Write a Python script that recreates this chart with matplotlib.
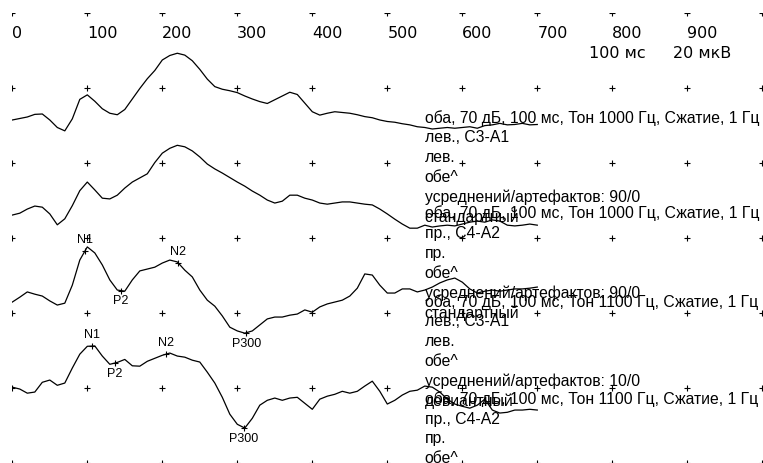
import numpy as np
import matplotlib.pyplot as plt

# Время, мс (шаг 10 мс)
t_ms = np.arange(0, 701, 10)

# Усреднённые ответы, мкВ (отрицательные значения вверх)
c3_std = [0.0, -0.4, -0.8, -1.5, -1.6, 0.0, 2.0, 2.9, -0.3, -5.5,
          -6.7, -5.0, -3.0, -1.8, -1.4, -2.8, -5.6, -8.4, -11.0, -13.2,
          -16.0, -17.2, -17.8, -17.3, -15.8, -13.5, -10.9, -8.9, -8.2, -7.8,
          -7.3, -6.4, -5.6, -4.9, -4.4, -5.4, -6.4, -7.4, -6.8, -4.5,
          -2.2, -1.3, -1.8, -2.2, -2.0, -1.8, -1.4, -0.9, -0.6, 0.0,
          0.4, 0.6, 1.0, 1.3, 1.8, 2.0, 2.4, 2.2, 2.0, 2.2,
          2.0, 1.8, 2.2, 1.5, 1.3, 0.9, 1.3, 1.2, 0.9, 1.3, 1.2]
c4_std = [0.0, -0.5, -1.6, -2.4, -2.1, -0.3, 2.6, 1.0, -2.5, -6.5,
          -8.8, -6.7, -4.5, -4.3, -5.3, -7.2, -8.8, -9.9, -11.0, -14.0,
          -16.5, -17.8, -18.6, -18.2, -17.1, -15.5, -13.6, -12.3, -11.2, -10.0,
          -8.8, -7.7, -6.4, -5.3, -4.0, -3.2, -3.7, -5.3, -5.3, -4.5,
          -4.0, -3.2, -2.9, -3.2, -3.5, -3.5, -3.2, -2.9, -2.7, -1.6,
          -0.3, 1.1, 2.4, 3.5, 3.5, 2.7, 3.2, 2.9, 2.7, 2.9,
          2.4, 1.9, 1.6, 1.9, 1.3, 1.6, 2.7, 2.9, 2.7, 2.4, 2.7]
c3_dev = [0.0, -1.3, -2.7, -2.1, -1.6, -0.3, 0.8, 0.3, -4.5, -11.2,
          -14.7, -13.1, -9.9, -5.9, -3.2, -2.9, -5.9, -8.3, -8.8, -9.3,
          -10.4, -11.2, -10.7, -8.5, -6.7, -3.2, -0.5, 1.1, 3.7, 6.7,
          7.7, 8.3, 7.7, 6.1, 4.5, 4.0, 4.0, 3.5, 3.2, 2.1,
          2.7, 1.3, 0.5, 0.0, -0.5, -1.6, -3.7, -7.5, -7.2, -4.5,
          -2.4, -2.4, -3.5, -3.5, -2.7, -3.2, -4.0, -5.1, -5.9, -6.4,
          -5.3, -3.5, -2.4, -2.9, -3.2, -2.9, -3.2, -3.5, -3.5, -3.7, -4.0]
c4_dev = [0.0, 0.5, 1.6, 1.3, -1.3, -1.9, -0.5, -1.1, -5.1, -8.8,
          -10.9, -11.0, -8.3, -6.1, -6.6, -7.4, -5.7, -5.6, -6.9, -7.7,
          -8.5, -9.1, -8.3, -8.0, -7.2, -6.7, -4.0, -1.1, 2.7, 7.2,
          9.9, 10.9, 8.3, 4.8, 3.5, 2.9, 3.5, 2.9, 2.7, 4.3,
          5.9, 3.2, 2.4, 1.9, 1.1, 1.6, 1.1, -0.3, -1.6, 1.1,
          4.5, 3.5, 2.1, 1.1, 0.8, -0.3, 0.0, 1.3, 3.2, 4.5,
          5.1, 5.6, 4.8, 3.2, 6.1, 6.9, 6.7, 6.1, 6.1, 5.9, 6.1]

traces = [c3_std, c4_std, c3_dev, c4_dev]
trace_offsets = [28.45, 53.8, 77.0, 99.7]

# Пики: название и латентность, мс
peak_names = ['N1', 'P2', 'N2', 'P300']
peaks_c3_dev = [97, 145, 221, 312]
peaks_c4_dev = [106, 137, 205, 309]

tick_labels = ['0', '100', '200', '300', '400', '500', '600', '700', '800', '900']

info_blocks = [
    ['оба, 70 дБ, 100 мс, Тон 1000 Гц, Сжатие, 1 Гц', 'лев., C3-A1', 'лев.', 'обе^',
     'усреднений/артефактов: 90/0', 'стандартный'],
    ['оба, 70 дБ, 100 мс, Тон 1000 Гц, Сжатие, 1 Гц', 'пр., C4-A2', 'пр.', 'обе^',
     'усреднений/артефактов: 90/0', 'стандартный'],
    ['оба, 70 дБ, 100 мс, Тон 1100 Гц, Сжатие, 1 Гц', 'лев., C3-A1', 'лев.', 'обе^',
     'усреднений/артефактов: 10/0', 'девиантный'],
    ['оба, 70 дБ, 100 мс, Тон 1100 Гц, Сжатие, 1 Гц', 'пр., C4-A2', 'пр.', 'обе^',
     'усреднений/артефактов: 10/0', 'девиантный'],
]
info_tops = [27.9, 53.4, 77.0, 102.9]

W, H = 763, 463
fig = plt.figure(figsize=(W / 100, H / 100), dpi=100)
ax = fig.add_axes([12.3 / W, -0.3 / H, 750 / W, 450 / H])
ax.set_xlim(0, 1000)
ax.set_ylim(120, 0)   # 20 мкВ на клетку, минус вверх
ax.axis('off')

# сетка из крестиков
gx, gy = np.meshgrid(np.arange(0, 1001, 100), np.arange(0, 121, 20))
ax.plot(gx.ravel(), gy.ravel(), ls='none', marker='+', ms=5, mew=0.8, color='black')

for vals, off in zip(traces, trace_offsets):
    ax.plot(t_ms, np.array(vals) + off, color='black', lw=0.9)

for idx, lats in ((2, peaks_c3_dev), (3, peaks_c4_dev)):
    vals = np.array(traces[idx]) + trace_offsets[idx]
    for name, lat in zip(peak_names, lats):
        py = np.interp(lat, t_ms, vals)
        ax.plot(lat, py, ls='none', marker='+', ms=4, mew=0.8, color='black')
        dy = -2.9 if name.startswith('N') else 2.9
        ax.text(lat, py + dy, name, ha='center', va='center',
                fontsize=9, family='Liberation Sans')

for i, lab in enumerate(tick_labels):
    ax.text(i * 100, 6.67, lab, ha='left', va='baseline', fontsize=11.5,
            family='DejaVu Sans')
ax.text(769, 12.0, '100 мс', ha='left', va='baseline', fontsize=11.5, family='DejaVu Sans')
ax.text(881, 12.0, '20 мкВ', ha='left', va='baseline', fontsize=11.5, family='DejaVu Sans')

for lines, top in zip(info_blocks, info_tops):
    for k, line in enumerate(lines):
        ax.text(550, top + k * 5.3, line, ha='left', va='center',
                fontsize=11.3, family='Liberation Sans', clip_on=False)

fig.savefig('out.png', dpi=100)
